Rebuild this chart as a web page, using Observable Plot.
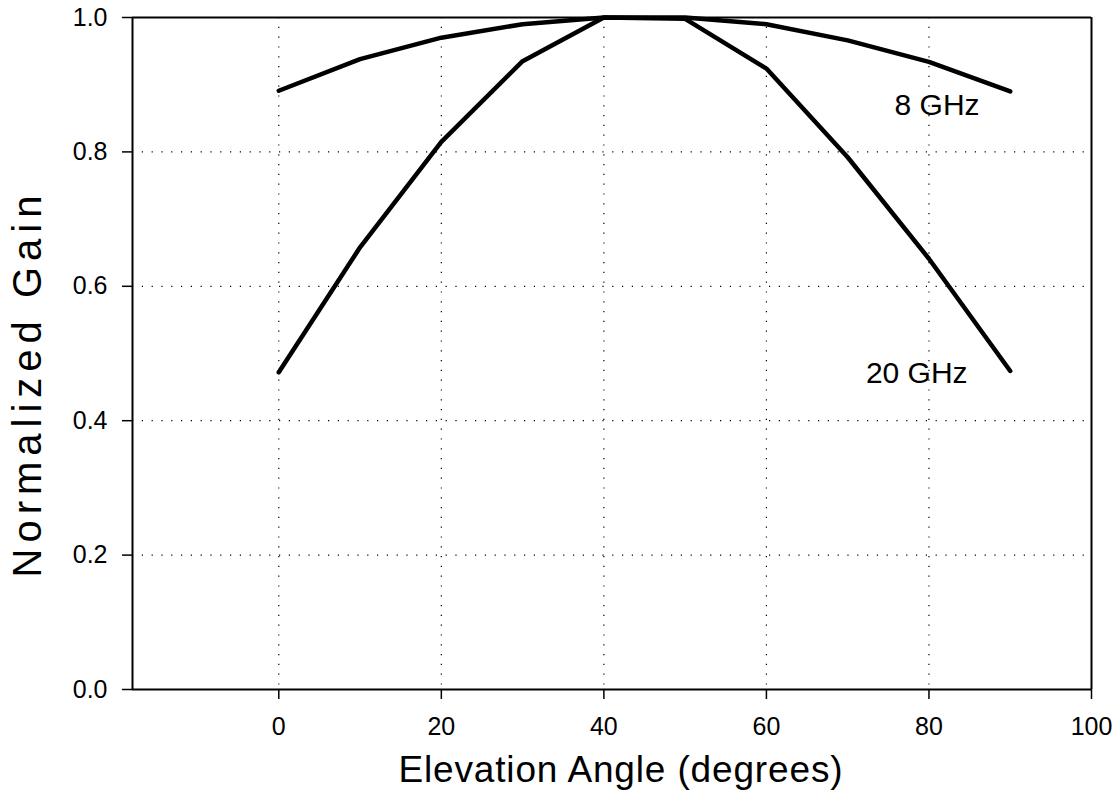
<!DOCTYPE html>
<html>
<head>
<meta charset="utf-8">
<script src="https://cdn.jsdelivr.net/npm/d3@7"></script>
<script src="https://cdn.jsdelivr.net/npm/@observablehq/plot@0.6"></script>
<style>
  html, body { margin: 0; padding: 0; background: #fff; }
  #chart svg { display: block; }
</style>
</head>
<body>
<div id="chart"></div>
<script>
// ---- data ----
const angles = [0, 10, 20, 30, 40, 50, 60, 70, 80, 90];
const gain8GHz = [0.891, 0.938, 0.970, 0.990, 1.000, 1.000, 0.990, 0.966, 0.934, 0.890];
const gain20GHz = [0.472, 0.658, 0.815, 0.935, 1.000, 0.998, 0.924, 0.792, 0.641, 0.474];
const seriesNames = ["8 GHz", "20 GHz"];
const labelAngles = [81.0, 78.5];
const labelGains = [0.869, 0.471];
const xTicks = [0, 20, 40, 60, 80, 100];
const yTicks = [0.0, 0.2, 0.4, 0.6, 0.8, 1.0];
const xGridValues = [0, 20, 40, 60, 80];
const yGridValues = [0.2, 0.4, 0.6, 0.8];
const xDomain = [-18, 100];
const yDomain = [0, 1];
const xTitle = "Elevation Angle (degrees)";
const yTitle = "Normalized Gain";

// ---- build table ----
const rows = [];
angles.forEach((a, i) => rows.push({series: seriesNames[0], angle: a, gain: gain8GHz[i]}));
angles.forEach((a, i) => rows.push({series: seriesNames[1], angle: a, gain: gain20GHz[i]}));
const labels = seriesNames.map((s, i) => ({text: s, angle: labelAngles[i], gain: labelGains[i]}));

const dotted = {stroke: "black", strokeOpacity: 1, strokeWidth: 1.2, strokeDasharray: "1.2,8.6"};

const chart = Plot.plot({
  width: 1117,
  height: 808,
  marginLeft: 132,
  marginRight: 26,
  marginTop: 17,
  marginBottom: 119,
  x: {domain: xDomain},
  y: {domain: yDomain},
  style: {fontFamily: "'Liberation Sans', Arial, Helvetica, sans-serif", background: "white", color: "black"},
  marks: [
    Plot.gridX(xGridValues, dotted),
    Plot.gridY(yGridValues, dotted),
    Plot.ruleY([yDomain[0], yDomain[1]], {stroke: "black", strokeWidth: 2}),
    Plot.ruleX([xDomain[0], xDomain[1]], {stroke: "black", strokeWidth: 2}),
    Plot.axisX({ticks: xTicks, tickSize: 10, tickPadding: 18, fontSize: 25, label: null, strokeWidth: 1.5, tickFormat: d => String(d)}),
    Plot.axisY({ticks: yTicks, tickSize: 10, tickPadding: 15, fontSize: 25, label: null, strokeWidth: 1.5, tickFormat: d => d.toFixed(1)}),
    Plot.line(rows, {x: "angle", y: "gain", z: "series", stroke: "black", strokeWidth: 4.5, strokeLinejoin: "round", strokeLinecap: "round"}),
    Plot.text(labels, {x: "angle", y: "gain", text: "text", fontSize: 30, fill: "black"}),
    Plot.text([xTitle], {text: d => d, frameAnchor: "bottom", textAnchor: "middle", dy: 92.5, dx: 8.5, fontSize: 37, fill: "black"}),
    Plot.text([yTitle], {text: d => d, frameAnchor: "left", textAnchor: "middle", rotate: -90, dx: -104, dy: 33, fontSize: 40, fill: "black"})
  ]
});

document.getElementById("chart").appendChild(chart);

// stretch title letter spacing to the reference extents
function fitSpacing(el, target) {
  const natural = el.getComputedTextLength();
  const n = el.textContent.length;
  const ls = (target - natural) / (n - 1);
  d3.select(el).attr("letter-spacing", ls.toFixed(2) + "px")
    .attr("dx", (ls / 2).toFixed(2)); // compensate trailing spacing for centered anchor
}
d3.select(chart).selectAll("text").each(function () {
  if (this.textContent === yTitle) fitSpacing(this, 382);
  else if (this.textContent === xTitle) fitSpacing(this, 444);
});
</script>
</body>
</html>
